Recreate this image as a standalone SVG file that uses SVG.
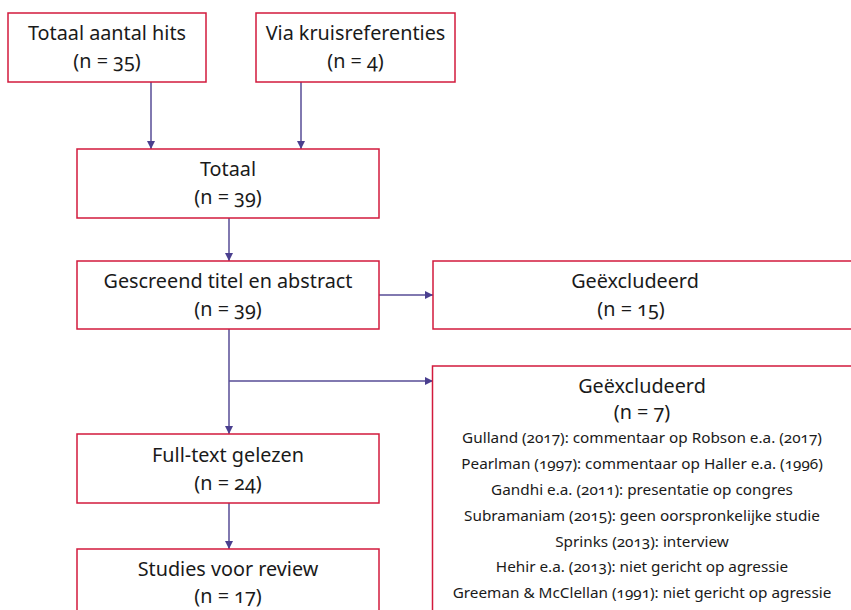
<svg xmlns="http://www.w3.org/2000/svg" width="851" height="610" viewBox="0 0 851 610">
<defs>
<style>
.box{fill:#fff;stroke:#d21a3c;stroke-width:1.5}
.t{font-family:"Noto Sans","Liberation Sans",sans-serif;font-size:19.8px;fill:#1a1a1a;text-anchor:middle;font-variant-numeric:oldstyle-nums}
.s{font-family:"Noto Sans","Liberation Sans",sans-serif;font-size:15.3px;fill:#1a1a1a;text-anchor:middle;font-variant-numeric:oldstyle-nums}
.c{fill:none;stroke:#574c96;stroke-width:1.5}
</style>
<marker id="ah" viewBox="0 0 10 10" refX="10" refY="5" markerWidth="8" markerHeight="8" markerUnits="userSpaceOnUse" orient="auto">
<path d="M0,0 L10,5 L0,10 Z" fill="#4a3f8f"/>
</marker>
</defs>
<rect width="851" height="610" fill="#fff"/>
<g id="connectors">
<line class="c" x1="151" y1="82" x2="151" y2="149" marker-end="url(#ah)"/>
<line class="c" x1="301" y1="82" x2="301" y2="149" marker-end="url(#ah)"/>
<line class="c" x1="229" y1="218" x2="229" y2="261" marker-end="url(#ah)"/>
<line class="c" x1="379" y1="295" x2="433" y2="295" marker-end="url(#ah)"/>
<line class="c" x1="229" y1="329" x2="229" y2="434" marker-end="url(#ah)"/>
<line class="c" x1="229" y1="381" x2="433" y2="381" marker-end="url(#ah)"/>
<line class="c" x1="229" y1="503" x2="229" y2="549" marker-end="url(#ah)"/>
</g>
<g id="hits">
<rect class="box" x="8" y="13" width="198" height="69"/>
<text class="t" x="107" y="40">Totaal aantal hits</text>
<text class="t" x="107" y="68">(n = 35)</text>
</g>
<g id="kruis">
<rect class="box" x="256" y="13" width="199" height="69"/>
<text class="t" x="355.5" y="40">Via kruisreferenties</text>
<text class="t" x="355.5" y="68">(n = 4)</text>
</g>
<g id="totaal">
<rect class="box" x="77" y="149" width="302" height="69"/>
<text class="t" x="228" y="176">Totaal</text>
<text class="t" x="228" y="204">(n = 39)</text>
</g>
<g id="gescreend">
<rect class="box" x="77" y="261" width="302" height="68"/>
<text class="t" x="228" y="288">Gescreend titel en abstract</text>
<text class="t" x="228" y="316">(n = 39)</text>
</g>
<g id="excl1">
<rect class="box" x="433" y="261" width="430" height="68"/>
<text class="t" x="635" y="288">Geëxcludeerd</text>
<text class="t" x="631" y="316">(n = 15)</text>
</g>
<g id="excl2">
<rect class="box" x="432.5" y="366" width="430" height="260"/>
<text class="t" x="642" y="393">Geëxcludeerd</text>
<text class="t" x="642" y="419">(n = 7)</text>
<text class="s" x="642" y="443">Gulland (2017): commentaar op Robson e.a. (2017)</text>
<text class="s" x="642" y="469">Pearlman (1997): commentaar op Haller e.a. (1996)</text>
<text class="s" x="642" y="495">Gandhi e.a. (2011): presentatie op congres</text>
<text class="s" x="642" y="521">Subramaniam (2015): geen oorspronkelijke studie</text>
<text class="s" x="642" y="547">Sprinks (2013): interview</text>
<text class="s" x="642" y="572">Hehir e.a. (2013): niet gericht op agressie</text>
<text class="s" x="642" y="598">Greeman &amp; McClellan (1991): niet gericht op agressie</text>
</g>
<g id="fulltext">
<rect class="box" x="77" y="434" width="302" height="69"/>
<text class="t" x="228" y="462">Full-text gelezen</text>
<text class="t" x="228" y="490">(n = 24)</text>
</g>
<g id="studies">
<rect class="box" x="77" y="549" width="302" height="80"/>
<text class="t" x="228" y="576">Studies voor review</text>
<text class="t" x="228" y="603">(n = 17)</text>
</g>
</svg>
